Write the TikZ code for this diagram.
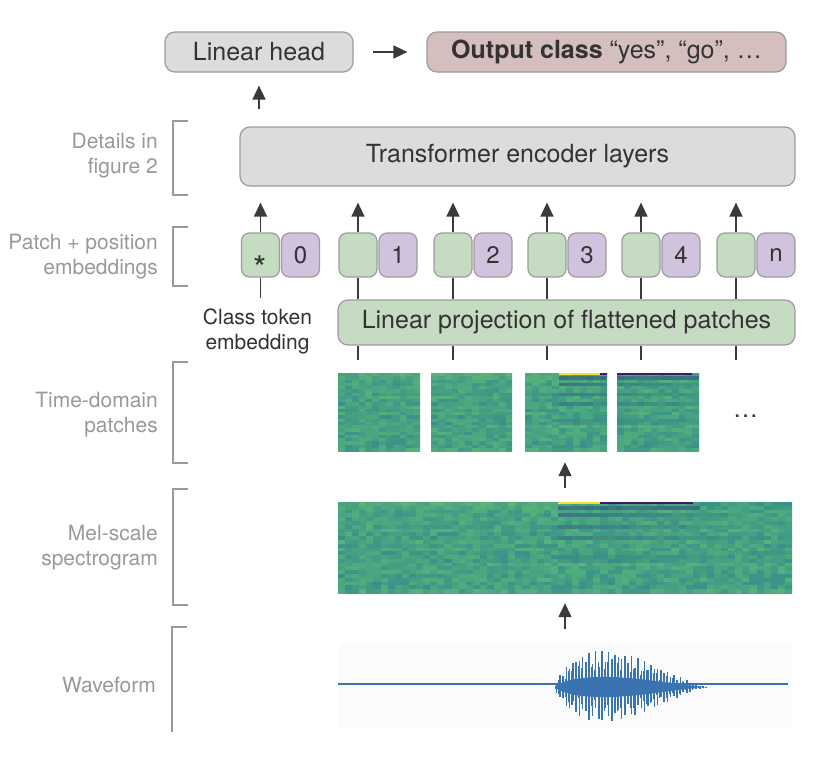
\documentclass[tikz,border=0pt]{standalone}
\usepackage{fontspec}
\setmainfont{TeX Gyre Heros}
\usetikzlibrary{arrows.meta}
\definecolor{boxgray}{HTML}{DCDCDC}
\definecolor{edgegray}{HTML}{9C9C9C}
\definecolor{outpink}{HTML}{D5BFBE}
\definecolor{tokgreen}{HTML}{C6DCC2}
\definecolor{tokpurple}{HTML}{D1C3DD}
\definecolor{labgray}{HTML}{999999}
\definecolor{txtdark}{HTML}{333333}
\definecolor{arrdark}{HTML}{3A3A3A}
\definecolor{steal}{HTML}{358F8A}
\definecolor{sgreen}{HTML}{58B47A}
\definecolor{sdark}{HTML}{31547F}
\definecolor{slight}{HTML}{7CCB6A}
\definecolor{syellow}{HTML}{F2E22A}
\definecolor{snavy}{HTML}{3B1E5E}
\definecolor{wblue}{HTML}{3A74B0}

\newcommand\specColor[2]{%
  \pgfmathsetmacro\rv{abs(sin(#1*127.1+#2*311.7))*437.585}%
  \pgfmathsetmacro\rv{\rv-floor(\rv)}%
  \pgfmathsetmacro\rw{abs(sin(#2*71.3+13))*93.7}%
  \pgfmathsetmacro\rw{\rw-floor(\rw)}%
  \pgfmathtruncatemacro\base{100*(0.75*\rv+0.25*\rw)}%
  \colorlet{spc}{sgreen!\base!steal}%
  \def\spflag{0}%
  \pgfmathtruncatemacro\insp{(#1>30)*(#1<59)*(#2>0)*(#2<19)}%
  \ifnum\insp=1 %
    \pgfmathsetmacro\rs{abs(sin(#2*151.7+41))*57.3}%
    \pgfmathsetmacro\rs{\rs-floor(\rs)}%
    \pgfmathtruncatemacro\st{75*(1-(#1-31)/28)*(1-(#2-1)/19)*(0.6+0.4*\rv)}%
    \ifdim\rs pt>0.6pt \colorlet{spc}{sdark!\st!spc}\fi
    \ifdim\rs pt<0.28pt \colorlet{spc}{slight!\st!spc}\fi
  \fi
  \ifnum#2=0 %
    \ifnum#1<31 \colorlet{spc}{slight!30!spc}\else
      \ifnum#1<37 \colorlet{spt}{syellow}\def\spflag{1}\else
        \ifnum#1<50 \colorlet{spt}{snavy}\def\spflag{1}\fi\fi\fi
  \fi
  \ifnum#2=1 %
    \ifnum#1<31 \colorlet{spc}{slight!20!spc}\else
      \ifnum#1<51 \colorlet{spc}{sdark!55!spc}\fi\fi
  \fi
}
\newcommand\drawspec[6]{%
  \foreach \i in {#1,...,#2}{%
    \foreach \j in {0,...,23}{%
      \specColor{\i}{\j}%
      \fill[spc] ({#3+(\i-#1)*#5},{#4+\j*#6}) rectangle ++({#5+0.7},{#6+0.7});
      \ifnum\spflag=1 \fill[spt] ({#3+(\i-#1)*#5},{#4}) rectangle ++({#5+0.7},{0.6*#6});\fi
    }%
  }%
}

\tikzset{
  rbox/.style={draw=edgegray, line width=1.2pt, rounded corners=10pt, inner sep=0pt, text=txtdark, font=\fontsize{25}{30}\selectfont},
  tok/.style={draw=edgegray, line width=1.2pt, rounded corners=8pt, minimum width=38pt, minimum height=44pt, inner sep=0pt, text=txtdark, font=\fontsize{24}{28}\selectfont},
  lab/.style={text=labgray, align=right, anchor=east, font=\fontsize{21}{25}\selectfont, inner sep=0pt},
  brk/.style={draw=labgray, line width=1.2pt},
  arr/.style={draw=arrdark, line width=1.4pt, -{Triangle[length=14pt,width=13pt]}},
  conn/.style={draw=arrdark, line width=1.4pt},
  imgbox/.style={draw=none, inner sep=0pt},
}

\begin{document}
\begin{tikzpicture}[x=1pt, y=-1pt,
  declare function={wenv(\u)=40*(\u^0.7)*((1-\u)^1.5)/0.2790;}]
\fill[white] (0,0) rectangle (828,756);
\useasboundingbox (0,0) rectangle (828,756);

% top boxes
\node[rbox, fill=boxgray, minimum width=188pt, minimum height=40pt] (lh) at (259,52) {Linear head};
\node[rbox, fill=outpink, minimum width=359pt, minimum height=40pt] (out) at (606.5,52) {\textbf{Output class} “yes”, “go”, …};
\node[rbox, fill=boxgray, minimum width=555pt, minimum height=59pt] (tfm) at (517.5,156.5) {Transformer encoder layers};
\node[rbox, fill=tokgreen, minimum width=457pt, minimum height=45pt] (proj) at (566.5,322.5) {Linear projection of flattened patches};

\draw[arr, shorten <=19pt, shorten >=19pt] (lh.east) -- (out.west);
\draw[arr, shorten <=17pt, shorten >=13pt] (tfm.north -| lh.south) -- (lh.south);

% tokens
\foreach \k/\x/\t in {0/260.5/0, 1/358/1, 2/453/2, 3/547/3, 4/641/4, 5/736/n}{
  \node[tok, fill=tokgreen] (g\k) at (\x,255) {};
  \node[tok, fill=tokpurple] (q\k) at (\x+40,255) {\t};
  \draw[arr, shorten >=16pt] (g\k.north) -- (g\k.north |- tfm.south);
}
\node[font=\fontsize{34}{36}\selectfont, text=txtdark, inner sep=0pt, anchor=north] (ast) at (260.5,255.5) {*};
\foreach \k/\x in {1/358, 2/453, 3/547, 4/641, 5/736}{
  \coordinate (e\k) at (\x,360);
  \draw[conn] (g\k.south) -- (g\k.south |- proj.north);
  \draw[conn] (g\k.south |- proj.south) -- (e\k);
}
\node[text=txtdark, font=\fontsize{21}{25}\selectfont, align=center, inner sep=0pt, anchor=north] (ctl) at (257.5,309) {Class token\\embedding};
\draw[conn, shorten >=11pt] (g0.south) -- (g0.south |- ctl.north);

% patches
\node[imgbox, minimum width=82pt, minimum height=78pt] (pa1) at (379,412) {};
\node[imgbox, minimum width=81pt, minimum height=78pt] (pa2) at (471.5,412) {};
\node[imgbox, minimum width=82pt, minimum height=78pt] (pa3) at (566,412) {};
\node[imgbox, minimum width=82pt, minimum height=78pt] (pa4) at (658,412) {};
\foreach \k/\c/\x in {1/0/338, 2/13/431, 3/26/525, 4/39/617}{
  \begin{scope}
    \clip (pa\k.south west) rectangle (pa\k.north east);
    \pgfmathtruncatemacro\cend{\c+11}
    \drawspec{\c}{\cend}{\x}{373}{6.84}{3.25}
  \end{scope}
}
\node[text=txtdark, font=\fontsize{25}{30}\selectfont, inner sep=0pt] (dots) at (745.5,416) {…};

% spectrogram
\node[imgbox, minimum width=454pt, minimum height=91pt] (spec) at (565,547.5) {};
\begin{scope}
  \clip (spec.south west) rectangle (spec.north east);
  \drawspec{0}{63}{338}{502}{7.094}{3.792}
\end{scope}
\draw[arr, shorten <=14pt, shorten >=11pt] (spec.north) -- (spec.north |- pa3.south);

% waveform
\node[imgbox, fill=black!1.5, minimum width=454pt, minimum height=85pt] (wave) at (565,685.5) {};
\draw[arr, shorten <=14pt, shorten >=10pt] (wave.north) -- (spec.south);
\draw[wblue, line width=1.4pt, shorten >=4pt] ([yshift=1.5pt]wave.west) -- ([yshift=1.5pt]wave.east);
\fill[wblue] plot[domain=0.01:0.99, samples=50, smooth] ({555+153*\x},{687-0.28*wenv(\x)})
  -- plot[domain=0.99:0.01, samples=50, smooth] ({555+153*\x},{687+0.28*wenv(\x)}) -- cycle;
\foreach \k in {0,...,46}{
  \pgfmathsetmacro\u{(\k+0.5)/47}
  \pgfmathsetmacro\xx{555+153*\u}
  \pgfmathsetmacro\up{wenv(\u)*(0.55+0.45*abs(sin(\k*97.1)))}
  \pgfmathsetmacro\dn{wenv(\u)*(0.5+0.45*abs(cos(\k*53.3)))}
  \draw[wblue, line width=1.5pt] ({\xx},{687-\up}) -- ({\xx},{687+\dn});
}
\foreach \k in {0,...,46}{
  \pgfmathsetmacro\u{(\k+0.0)/47+0.005}
  \pgfmathsetmacro\xx{555+153*\u}
  \pgfmathsetmacro\up{wenv(\u)*(0.35+0.35*abs(sin(\k*61.7)))}
  \pgfmathsetmacro\dn{wenv(\u)*(0.35+0.35*abs(cos(\k*37.9)))}
  \draw[wblue, line width=1.1pt] ({\xx},{687-\up}) -- ({\xx},{687+\dn});
}

% side labels and brackets
\node[lab] (l1) at (158,155.5) {Details in\\figure 2};
\draw[brk] (188,121) -- (173,121) -- (173,195) -- (188,195);
\node[lab] (l2) at (158,256.5) {Patch + position\\embeddings};
\draw[brk] (188,227) -- (173,227) -- (173,286) -- (188,286);
\node[lab] (l3) at (158,414.5) {Time-domain\\patches};
\draw[brk] (188,362) -- (173,362) -- (173,463) -- (188,463);
\node[lab] (l4) at (158,547.5) {Mel-scale\\spectrogram};
\draw[brk] (188,489) -- (173,489) -- (173,605) -- (188,605);
\node[lab] (l5) at (156,685) {Waveform};
\draw[brk] (187,627) -- (172,627) -- (172,732);
\end{tikzpicture}
\end{document}
